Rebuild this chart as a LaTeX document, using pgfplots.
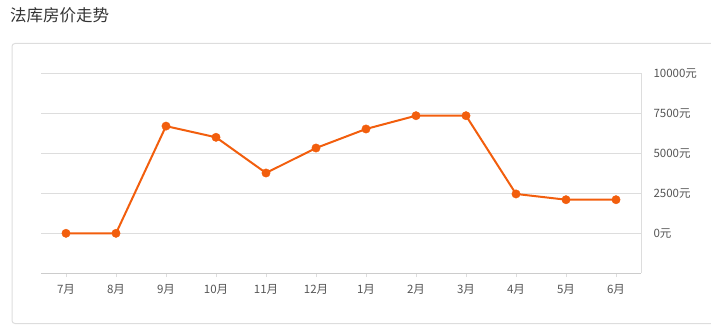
\documentclass[border=0pt]{standalone}
\usepackage{pgfplots}
\pgfplotsset{compat=1.18}
\usepackage{fontspec}
\setmainfont{Noto Sans CJK SC}
\definecolor{lineorange}{HTML}{F25E0D}
\definecolor{gridgray}{HTML}{DDDDDD}
\definecolor{axisgray}{HTML}{CCCCCC}
\definecolor{txt}{HTML}{555555}
\definecolor{titlec}{HTML}{333333}
\begin{document}
\begin{tikzpicture}[x=1pt,y=1pt]
\useasboundingbox (0,0) rectangle (711,-334);
\node[anchor=west, font=\fontsize{16.5}{17}\selectfont, text=titlec, inner sep=0] at (10,-15) {法库房价走势};
\draw[gridgray, line width=1pt, rounded corners=3pt] (730,-43.5) -- (12,-43.5) -- (12,-323.5) -- (730,-323.5);
\begin{axis}[
  at={(41pt,-273.3pt)}, anchor=south west,
  scale only axis, width=600pt, height=200pt,
  xmin=-0.5, xmax=11.5, ymin=-2500, ymax=10000,
  axis x line*=bottom, axis y line*=right,
  x axis line style={-, draw=axisgray, line width=1.5pt},
  y axis line style={-, draw=gridgray, line width=1pt},
  xtick={0,...,11},
  xticklabels={7月,8月,9月,10月,11月,12月,1月,2月,3月,4月,5月,6月},
  ytick={0,2500,5000,7500,10000},
  yticklabels={0元,2500元,5000元,7500元,10000元},
  scaled y ticks=false,
  ymajorgrids, grid style={gridgray, line width=1pt},
  tick align=outside,
  xtick style={draw=gridgray, line width=1pt},
  ytick style={draw=none},
  major tick length=4pt,
  ticklabel style={font=\fontsize{11.5}{12}\selectfont, text=txt},
  xticklabel style={yshift=-4pt},
  yticklabel style={xshift=5pt},
  clip=false,
]
\addplot[lineorange, line width=2pt, mark=*, mark size=4.2pt, mark options={fill=lineorange, draw=lineorange, line width=0.4pt}]
coordinates {(0,0)(1,0)(2,6700)(3,6000)(4,3770)(5,5330)(6,6520)(7,7350)(8,7350)(9,2460)(10,2100)(11,2100)};
\end{axis}
\end{tikzpicture}
\end{document}
